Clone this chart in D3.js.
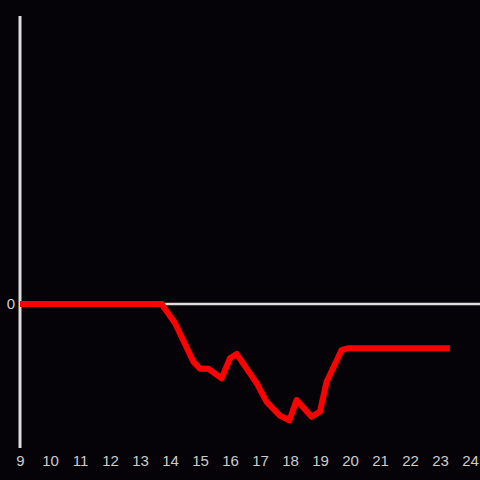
<!DOCTYPE html>
<html>
<head>
<meta charset="utf-8">
<script src="https://cdn.jsdelivr.net/npm/d3@7"></script>
<style>
  html, body { margin: 0; padding: 0; background: #050307; }
  svg { display: block; }
</style>
</head>
<body>
<div id="chart"></div>
<script>
var xs = [9, 13.72, 14.17, 14.78, 15.0, 15.28, 15.72, 16.0, 16.22, 16.89, 17.22, 17.67, 17.98, 18.22, 18.72, 19.0, 19.22, 19.72, 19.94, 23.33];
var ys = [0, 0, -0.40, -1.20, -1.35, -1.35, -1.55, -1.13, -1.04, -1.65, -2.04, -2.33, -2.42, -2.0, -2.35, -2.24, -1.62, -0.96, -0.92, -0.92];
var xTicks = [9, 10, 11, 12, 13, 14, 15, 16, 17, 18, 19, 20, 21, 22, 23, 24];
var yTicks = [0];

var width = 480, height = 480;
var margin = {top: 16, right: 10, bottom: 32, left: 20};

var x = d3.scaleLinear().domain([9, 24]).range([margin.left, width - margin.right]);
var y = d3.scaleLinear().domain([-3, 6]).range([height - margin.bottom, margin.top]);

var svg = d3.select("#chart").append("svg")
    .attr("width", width)
    .attr("height", height);

var data = xs.map(function(d, i) { return {x: d, y: ys[i]}; });

// zero line
svg.append("line")
    .attr("x1", x(9)).attr("x2", width)
    .attr("y1", y(0)).attr("y2", y(0))
    .attr("stroke", "#dddddd")
    .attr("stroke-width", 2.5);

// y axis
var yAxis = svg.append("g")
    .attr("transform", "translate(" + margin.left + ",0)")
    .call(d3.axisLeft(y).tickValues(yTicks).tickSize(0).tickPadding(5));
yAxis.select(".domain").remove();
yAxis.append("line")
    .attr("x1", 0).attr("x2", 0)
    .attr("y1", y.range()[1]).attr("y2", y.range()[0])
    .attr("stroke", "#dddddd")
    .attr("stroke-width", 3);
yAxis.selectAll("text")
    .attr("fill", "#cccccc")
    .style("font-family", "'Liberation Sans', Arial, sans-serif")
    .style("font-size", "15px");

// x axis labels
var xAxis = svg.append("g")
    .attr("transform", "translate(0," + (height - margin.bottom) + ")")
    .call(d3.axisBottom(x).tickValues(xTicks).tickFormat(d3.format("d")).tickSize(0).tickPadding(7));
xAxis.select(".domain").remove();
xAxis.selectAll("text")
    .attr("fill", "#cccccc")
    .style("font-family", "'Liberation Sans', Arial, sans-serif")
    .style("font-size", "15px");

var line = d3.line()
    .x(function(d) { return x(d.x); })
    .y(function(d) { return y(d.y); });

svg.append("path")
    .datum(data)
    .attr("d", line)
    .attr("fill", "none")
    .attr("stroke", "#ff0000")
    .attr("stroke-width", 6)
    .attr("stroke-linejoin", "round");
</script>
</body>
</html>
